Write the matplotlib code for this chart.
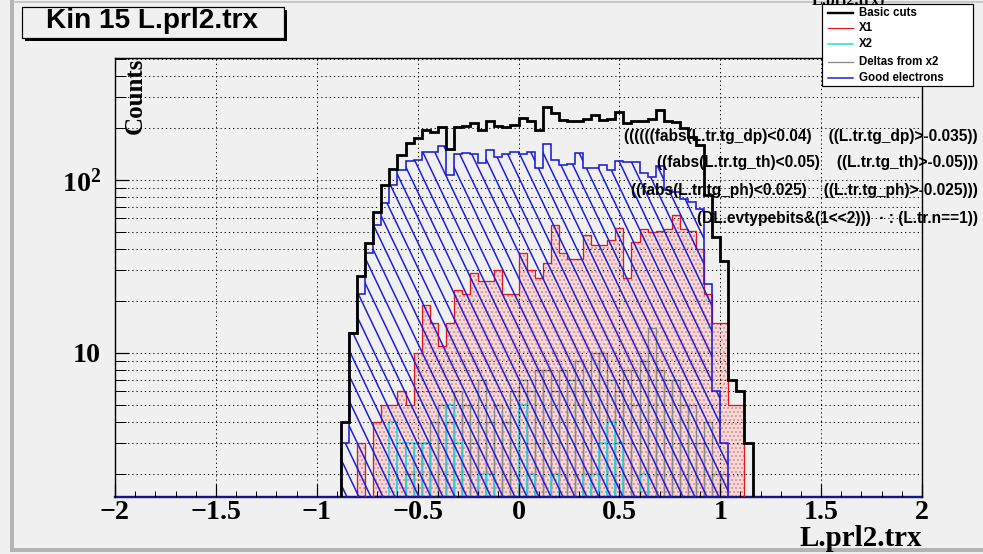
import numpy as np
import matplotlib
matplotlib.use("Agg")
import matplotlib.pyplot as plt
from matplotlib.collections import LineCollection
from matplotlib.patches import Rectangle
from matplotlib.lines import Line2D
from matplotlib.ticker import MultipleLocator, LogLocator, NullFormatter

# histogram binning: 0.04 wide bins starting at -0.88
bin_lo = -0.88
bin_w = 0.04

basic_cuts = [4, 13, 28, 43, 65, 94, 116, 140, 163, 174,
              194, 189, 203, 152, 203, 205, 213, 194, 219, 205,
              203, 208, 227, 219, 194, 265, 243, 222, 219, 219,
              225, 236, 222, 225, 248, 213, 219, 219, 225, 254,
              219, 215, 199, 178, 159, 82, 47, 34, 7, 6,
              3]
x1 = [0, 0, 3, 0, 4, 5, 5, 6, 5, 10,
      19, 15, 11, 15, 23, 22, 29, 26, 26, 30,
      22, 22, 38, 30, 27, 33, 55, 38, 35, 35,
      48, 42, 42, 45, 53, 27, 44, 52, 50, 51,
      52, 63, 52, 51, 40, 22, 15, 15, 5, 5,
      0]
x2 = [0, 0, 0, 0, 0, 0, 4, 3, 3, 0,
      3, 0, 0, 5, 3, 0, 0, 2, 2, 0,
      0, 0, 5, 2, 0, 0, 2, 0, 0, 0,
      2, 2, 3, 4, 3, 0, 0, 2, 0, 0,
      0, 0, 0, 0, 0, 0, 0, 0, 0, 0,
      0]
deltas = [0, 0, 0, 0, 0, 0, 0, 0, 2, 3,
          3, 4, 5, 4, 6, 5, 3, 7, 4, 5,
          4, 6, 7, 6, 8, 8, 6, 8, 7, 9,
          6, 10, 10, 7, 6, 8, 5, 9, 14, 8,
          7, 7, 5, 5, 3, 4, 2, 2, 0, 0,
          0]
good_el = [3, 13, 22, 38, 55, 74, 94, 114, 129, 130,
           146, 146, 158, 107, 141, 143, 141, 125, 149, 136,
           141, 145, 141, 145, 118, 161, 130, 122, 124, 143,
           117, 118, 122, 114, 129, 127, 127, 109, 104, 120,
           88, 85, 78, 75, 68, 25, 6, 3, 0, 0,
           0]

xtick_vals = [-2, -1.5, -1, -0.5, 0, 0.5, 1, 1.5, 2]
xtick_labels = ["\u22122", "\u22121.5", "\u22121", "\u22120.5", "0", "0.5", "1", "1.5", "2"]
ytick_vals = [10, 100]
ytick_labels = ["10", r"$\mathbf{10^{2}}$"]

legend_names = ["Basic cuts", "X1", "X2", "Deltas from x2", "Good electrons"]
cut_lines = ["((((((fabs(L.tr.tg_dp)<0.04)    ((L.tr.tg_dp)>-0.035))",
             "((fabs(L.tr.tg_th)<0.05)    ((L.tr.tg_th)>-0.05)))",
             "((fabs(L.tr.tg_ph)<0.025)    ((L.tr.tg_ph)>-0.025)))",
             "(DL.evtypebits&(1<<2)))  \u00b7 : (L.tr.n==1))"]

BLACK = "black"
RED = "#e8141a"
CYAN = "#1ed6e0"
GRAY = "#8a8a8a"
BLUE = "#1c1cd8"
BG = "#f0f0f0"

plt.rcParams["mathtext.fontset"] = "custom"
plt.rcParams["mathtext.bf"] = "Liberation Serif:bold"
plt.rcParams["mathtext.rm"] = "Liberation Serif:bold"
plt.rcParams["hatch.linewidth"] = 0.7

W, H = 983, 554
fig = plt.figure(figsize=(W / 72, H / 72), dpi=72, facecolor=BG)


def fx(x):
    return x / W


def fy(y):
    return 1 - y / H


ax_l, ax_r, ax_t, ax_b = 115, 922, 58, 497
ax = fig.add_axes([fx(ax_l), fy(ax_b), (ax_r - ax_l) / W, (ax_b - ax_t) / H])
ax.set_facecolor(BG)

edges = bin_lo + bin_w * np.arange(len(basic_cuts) + 1)


def nz(v):
    v = np.asarray(v, float)
    return np.where(v > 0, v, 1e-3)


# X1: pink dotted fill
ax.stairs(nz(x1), edges, baseline=1e-3, fill=True, facecolor="#f3dada",
          edgecolor="none", zorder=1)
ax.stairs(nz(x1), edges, baseline=1e-3, fill=True, facecolor="none",
          edgecolor="#e05a5a", hatch="...", linewidth=0, zorder=1.1)

# Deltas from x2 and X2 as bin boxes
d = np.asarray(deltas, float)
m = d > 0
ax.bar(edges[:-1][m], d[m], width=bin_w, align="edge", bottom=1e-3,
       fill=False, edgecolor=GRAY, linewidth=1.4, zorder=2)
c = np.asarray(x2, float)
m = c > 0
ax.bar(edges[:-1][m], c[m], width=bin_w, align="edge", bottom=1e-3,
       fill=False, edgecolor=CYAN, linewidth=1.5, zorder=2.5)

ax.stairs(nz(x1), edges, baseline=1e-3, color=RED, linewidth=1.3, zorder=3)

# Good electrons: steep hatch clipped to the histogram area
clip = ax.stairs(nz(good_el), edges, baseline=1e-3, fill=True,
                 facecolor="none", edgecolor="none", zorder=3)
pw, ph = ax_r - ax_l, ax_b - ax_t
slope = 2.1
segs = []
for c0 in np.arange(-ph / slope - 20, pw + 20, 12.0):
    segs.append([(c0 / pw, 1.0), ((c0 + ph / slope) / pw, 0.0)])
lc = LineCollection(segs, colors=BLUE, linewidths=1.5, transform=ax.transAxes, zorder=3.2)
ax.add_collection(lc)
lc.set_clip_path(clip)
ax.stairs(nz(good_el), edges, baseline=1e-3, color=BLUE, linewidth=1.6, zorder=3.5)

ax.stairs(nz(basic_cuts), edges, baseline=1e-3, color=BLACK, linewidth=2.8, zorder=4)

ax.set_yscale("log")
ax.set_xlim(-2, 2)
ax.set_ylim(1.471, 507)

ax.set_xticks(xtick_vals)
ax.set_xticklabels(xtick_labels, fontfamily="Liberation Serif", fontweight="bold", fontsize=28)
ax.xaxis.set_minor_locator(MultipleLocator(0.1))
ax.set_yticks(ytick_vals)
ax.set_yticklabels(ytick_labels, fontfamily="Liberation Serif", fontweight="bold", fontsize=28)
ax.yaxis.set_minor_locator(LogLocator(subs=np.arange(2, 10)))
ax.yaxis.set_minor_formatter(NullFormatter())

ax.tick_params(axis="x", which="major", direction="in", length=13, width=1.2, pad=3,
               top=False, bottom=True)
ax.tick_params(axis="x", which="minor", direction="in", length=6, width=1.0, top=False)
ax.tick_params(axis="y", which="major", direction="in", length=14, width=1.2, pad=14,
               right=False)
ax.tick_params(axis="y", which="minor", direction="in", length=11, width=1.0, right=False)

ax.grid(True, which="major", axis="x", color="black", linestyle=(0, (1.2, 3)), linewidth=1.0)
ax.grid(True, which="both", axis="y", color="black", linestyle=(0, (1.2, 3)), linewidth=1.0)
ax.set_axisbelow(False)

for s in ax.spines.values():
    s.set_linewidth(1.4)
ax.spines["bottom"].set_color("#15158a")
ax.spines["bottom"].set_linewidth(2.4)

# axis titles
fig.text(fx(922), fy(538), "L.prl2.trx", ha="right", va="center",
         fontfamily="Liberation Serif", fontweight="bold", fontsize=29)
fig.text(fx(135), fy(58), "Counts", rotation=90, ha="center", va="top",
         fontfamily="Liberation Serif", fontweight="bold", fontsize=25, zorder=6)

# cut annotations
for yy, s in zip([137, 163, 190, 218], cut_lines):
    fig.text(fx(978), fy(yy), s, ha="right", va="center", fontfamily="Liberation Sans",
             fontweight="bold", fontsize=15.5, zorder=6)

# title box with shadow
fig.add_artist(Rectangle((fx(25), fy(41)), (287 - 25) / W, (41 - 10) / H,
                         transform=fig.transFigure, facecolor="black", edgecolor="none", zorder=7))
fig.add_artist(Rectangle((fx(22), fy(38)), (284 - 22) / W, (38 - 7) / H,
                         transform=fig.transFigure, facecolor=BG, edgecolor="black",
                         linewidth=1.2, zorder=7.1))
fig.text(fx(152), fy(21), "Kin 15 L.prl2.trx", ha="center", va="center",
         fontfamily="Liberation Sans", fontweight="bold", fontsize=28, zorder=8)

# partly hidden label at top right
fig.text(fx(812), fy(1), "L.prl2.trx)", ha="left", va="center",
         fontfamily="Liberation Serif", fontweight="bold", fontsize=16, zorder=8)

# legend box
fig.add_artist(Rectangle((fx(822), fy(86)), (973 - 822) / W, (86 - 4) / H,
                         transform=fig.transFigure, facecolor="white", edgecolor="black",
                         linewidth=1.2, zorder=9))
leg_colors = [BLACK, RED, CYAN, GRAY, BLUE]
leg_widths = [2.4, 1.2, 1.5, 1.3, 1.5]
for yy, name, col, lw in zip([12.7, 28.3, 44.3, 61.7, 78.3], legend_names, leg_colors, leg_widths):
    fig.add_artist(Line2D([fx(828), fx(853)], [fy(yy), fy(yy)], transform=fig.transFigure,
                          color=col, linewidth=lw, zorder=10))
    fig.text(fx(859), fy(yy), name, ha="left", va="center", fontfamily="Liberation Sans",
             fontweight="bold", fontsize=11.5, zorder=10)

# canvas bevel
fig.add_artist(Line2D([fx(12), fx(12)], [fy(0), fy(550)], transform=fig.transFigure,
                      color="#b4b4b4", linewidth=4, zorder=0.5))
fig.add_artist(Line2D([fx(12), fx(983)], [fy(550), fy(550)], transform=fig.transFigure,
                      color="#b4b4b4", linewidth=4, zorder=0.5))
fig.add_artist(Line2D([fx(14), fx(983)], [fy(2), fy(2)], transform=fig.transFigure,
                      color="#c8c8c8", linewidth=2, zorder=0.5))

fig.savefig("out.png", dpi=72, facecolor=BG)
